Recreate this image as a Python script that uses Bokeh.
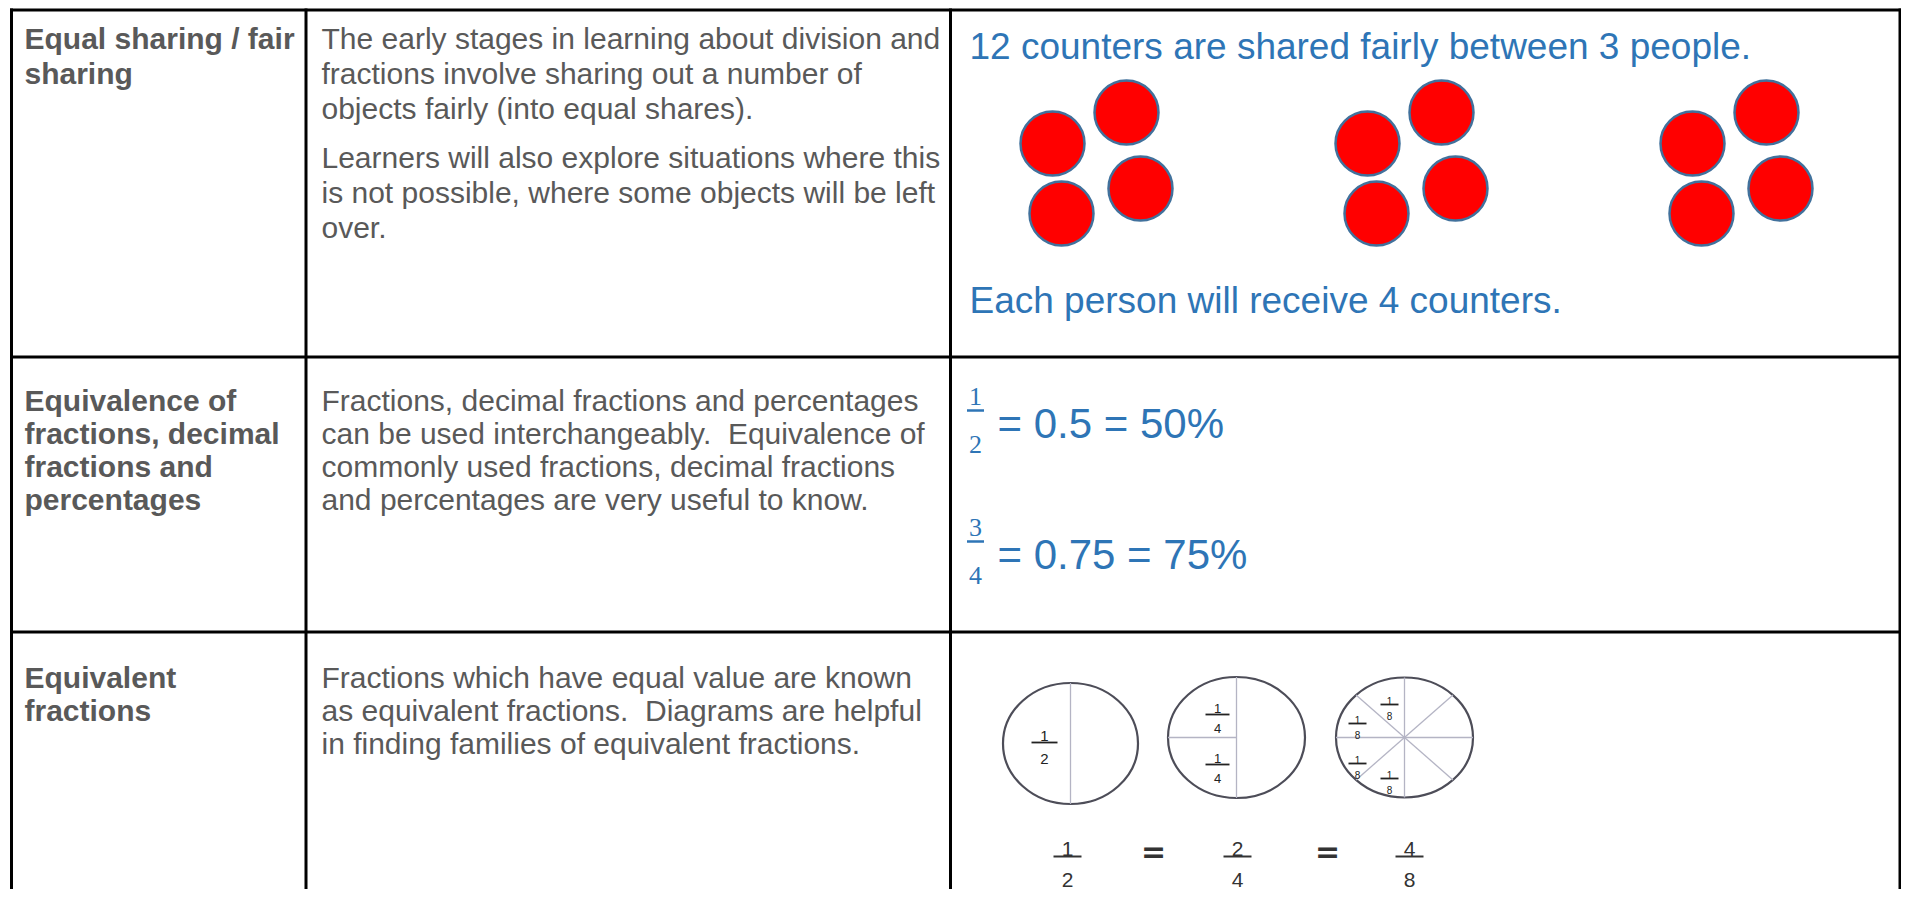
from bokeh.plotting import figure
from bokeh.models import Range1d
from bokeh.embed import file_html
from bokeh.resources import INLINE
from bokeh.core.properties import value
import math

# ---------------- data ----------------
topics = [
    ["Equal sharing / fair", "sharing"],
    ["Equivalence of", "fractions, decimal", "fractions and", "percentages"],
    ["Equivalent", "fractions"],
]
descriptions = [
    [["The early stages in learning about division and",
      "fractions involve sharing out a number of",
      "objects fairly (into equal shares)."],
     ["Learners will also explore situations where this",
      "is not possible, where some objects will be left",
      "over."]],
    [["Fractions, decimal fractions and percentages",
      "can be used interchangeably.\u00a0 Equivalence of",
      "commonly used fractions, decimal fractions",
      "and percentages are very useful to know."]],
    [["Fractions which have equal value are known",
      "as equivalent fractions.\u00a0 Diagrams are helpful",
      "in finding families of equivalent fractions."]],
]
total_counters = 12
people = 3
per_person = total_counters // people
example_title = f"{total_counters} counters are shared fairly between {people} people."
example_result = f"Each person will receive {per_person} counters."

eq_numerators = [1, 3]
eq_denominators = [2, 4]
eq_decimals = ["0.5", "0.75"]
eq_percents = ["50%", "75%"]

diagram_denominators = [2, 4, 8]
diagram_numerators = [1, 2, 4]

# ---------------- style / layout ----------------
GRAY = "#595959"
BLUE = "#2E75B6"
RED = "#FF0000"
RED_EDGE = "#41719C"
FONT = "Liberation Sans"

W, H = 1901, 889
p = figure(width=W, height=H, x_range=Range1d(0, W), y_range=Range1d(H, 0),
           output_backend="svg", toolbar_location=None, min_border=0,
           x_axis_location=None, y_axis_location=None)
p.grid.visible = False
p.outline_line_color = None
p.background_fill_color = "white"
p.border_fill_color = "white"

# table grid
col_x = [11, 305.5, 950, 1899.5]
row_y = [9.5, 356.5, 631.5]
p.segment(x0=col_x, y0=[8] * 4, x1=col_x, y1=[H] * 4, line_color="black", line_width=3)
p.segment(x0=[9.5] * 3, y0=row_y, x1=[1901] * 3, y1=row_y, line_color="black", line_width=3)

# column 1 and 2 texts
first_baseline = [38, 400, 677]
line_gap = [35, 33, 33]
para_gap = 14
tx, ty, tt = [], [], []
for r, lines in enumerate(topics):
    for i, ln in enumerate(lines):
        tx.append(24); ty.append(first_baseline[r] + i * line_gap[r]); tt.append(ln)
p.text(x=tx, y=ty, text=tt, text_font=value(FONT), text_font_size="30px",
       text_font_style="bold", text_color=GRAY, text_baseline="alphabetic")

dx, dy, dt = [], [], []
for r, paras in enumerate(descriptions):
    y = first_baseline[r]
    for para in paras:
        for ln in para:
            dx.append(321); dy.append(y); dt.append(ln)
            y += line_gap[r]
        y += para_gap
p.text(x=dx, y=dy, text=dt, text_font=value(FONT), text_font_size="30px",
       text_color=GRAY, text_baseline="alphabetic")

# ---- row 1, column 3: counters ----
p.text(x=[969, 969], y=[46, 300], text=[example_title, example_result],
       text_font=value(FONT), text_font_size="37px", text_color=BLUE,
       text_baseline="alphabetic")
group_x = [1052, 1367, 1692]
pattern_dx = [0, 74, 88, 9]
pattern_dy = [143, 112, 188, 213]
cx, cy = [], []
for g in range(people):
    for k in range(per_person):
        cx.append(group_x[g] + pattern_dx[k]); cy.append(pattern_dy[k])
p.ellipse(x=cx, y=cy, width=64, height=64, fill_color=RED, line_color=RED_EDGE, line_width=2.5)

# ---- row 2, column 3: equivalences ----
bar_y = [410, 541]
for i in range(len(eq_numerators)):
    p.text(x=[975, 975], y=[bar_y[i] - 14, bar_y[i] + 34],
           text=[str(eq_numerators[i]), str(eq_denominators[i])],
           text_font=value("Liberation Serif"), text_font_size="26px", text_color=BLUE,
           text_align="center", text_baseline="alphabetic")
    p.segment(x0=[966.5], y0=[bar_y[i]], x1=[983.5], y1=[bar_y[i]], line_color=BLUE, line_width=2.5)
    p.text(x=[997], y=[bar_y[i] + 13], text=[f"= {eq_decimals[i]} = {eq_percents[i]}"],
           text_font=value(FONT), text_font_size="42px", text_color=BLUE,
           text_baseline="alphabetic")

# ---- row 3, column 3: fraction circles ----
OUT = "#4d4d58"
INNER = "#b4b4c4"
circ_x = [1070, 1236, 1404]
circ_y = [743, 737, 737]
circ_w = [135, 137, 137]
circ_h = [121, 121, 120]
p.ellipse(x=circ_x, y=circ_y, width=circ_w, height=circ_h, fill_color="white",
          line_color=OUT, line_width=2.2)

sx0, sy0, sx1, sy1 = [], [], [], []
for i, d in enumerate(diagram_denominators):
    x0, y0, a, b = circ_x[i], circ_y[i], circ_w[i] / 2, circ_h[i] / 2
    sx0.append(x0); sy0.append(y0 - b); sx1.append(x0); sy1.append(y0 + b)
    if d == 4:
        sx0.append(x0 - a); sy0.append(y0); sx1.append(x0); sy1.append(y0)
    if d == 8:
        sx0.append(x0 - a); sy0.append(y0); sx1.append(x0 + a); sy1.append(y0)
        for ang in (45, 135):
            t = math.radians(ang)
            sx0.append(x0 + a * math.cos(t)); sy0.append(y0 - b * math.sin(t))
            sx1.append(x0 - a * math.cos(t)); sy1.append(y0 + b * math.sin(t))
p.segment(x0=sx0, y0=sy0, x1=sx1, y1=sy1, line_color=INNER, line_width=1.3)


def small_frac(xs, bars, num, den, size, hw, up, down, color="#222222", lw=1.8):
    p.text(x=xs, y=[b - up for b in bars], text=[str(num)] * len(xs),
           text_font=value(FONT), text_font_size=f"{size}px", text_color=color,
           text_align="center", text_baseline="alphabetic")
    p.text(x=xs, y=[b + down for b in bars], text=[str(den)] * len(xs),
           text_font=value(FONT), text_font_size=f"{size}px", text_color=color,
           text_align="center", text_baseline="alphabetic")
    p.segment(x0=[x - hw for x in xs], y0=bars, x1=[x + hw for x in xs], y1=bars,
              line_color=color, line_width=lw)


small_frac([1044], [742], 1, 2, 15, 13, 7, 16)
small_frac([1217, 1217], [714, 764], 1, 4, 13, 12, 6, 14)
small_frac([1389, 1357, 1357, 1389], [704, 723, 763, 778], 1, 8, 10, 9, 4, 11)

eq_x = [1067, 1237, 1409]
for i in range(3):
    small_frac([eq_x[i]], [856], diagram_numerators[i], diagram_denominators[i], 21, 14, 8, 23,
               color="#333333", lw=2)
p.text(x=[1153, 1327], y=[851, 851], text=["=", "="], text_font=value("DejaVu Sans"),
       text_font_size="30px", text_font_style="bold", text_color="#333333",
       text_align="center", text_baseline="middle")

open("out.html", "w").write(file_html(p, INLINE))
